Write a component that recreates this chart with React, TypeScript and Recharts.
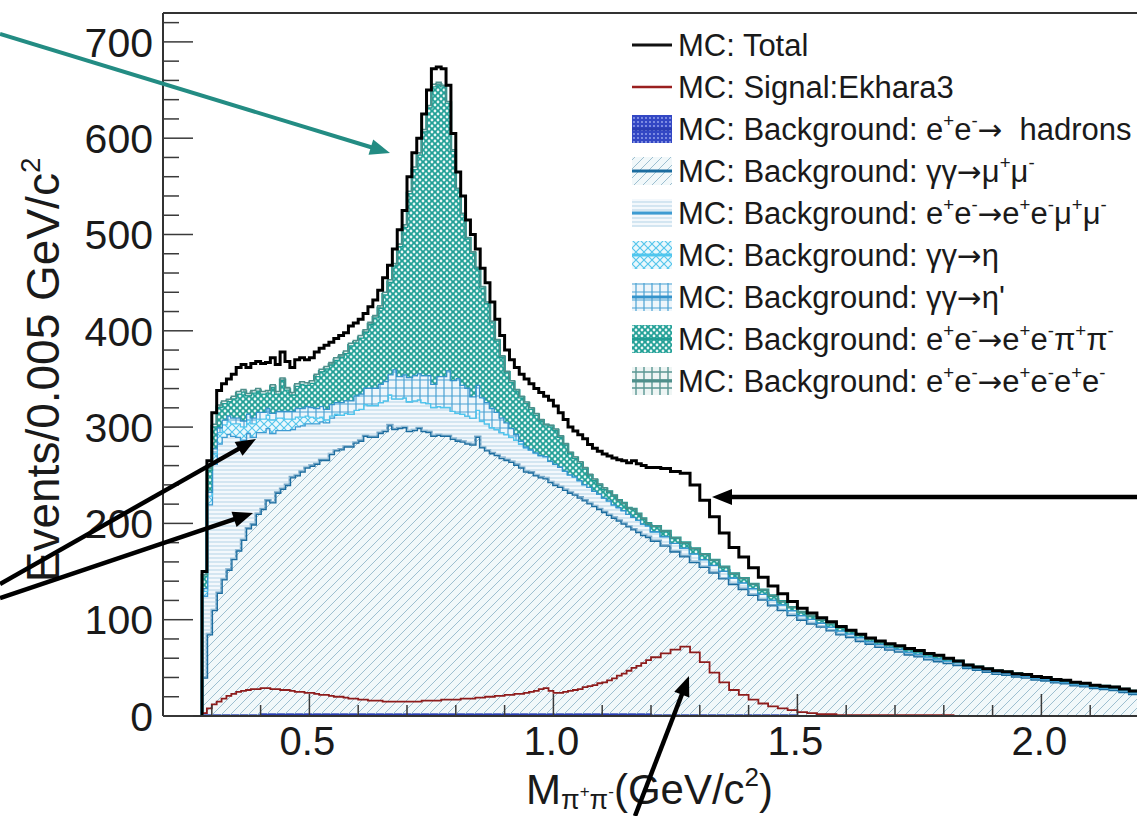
import React from 'react';
import { ComposedChart, Area, Line, XAxis, YAxis, ReferenceLine } from 'recharts';

// Bins: 0.01 GeV from 0.28 to 1.20, then 0.02 GeV up to 2.20
const FINE_BINS = 92;
const binLow = (i: number) =>
  Math.round((i < FINE_BINS ? 0.28 + i * 0.01 : 1.2 + (i - FINE_BINS) * 0.02) * 1000) / 1000;

const hadrons = [
  1, 1, 1, 1, 1, 1, 1, 1, 1, 1,
  1, 1, 2, 2, 2, 2, 2, 2, 2, 2,
  2, 2, 2, 2, 2, 2, 2, 2, 2, 2,
  2, 2, 2, 2, 2, 2, 2, 2, 2, 2,
  2, 2, 2, 2, 2, 2, 2, 2, 2, 2,
  2, 2, 2, 2, 2, 2, 2, 2, 2, 2,
  2, 2, 2, 2, 2, 2, 2, 2, 2, 2,
  2, 2, 2, 2, 2, 2, 2, 2, 2, 2,
  2, 2, 2, 2, 2, 2, 2, 2, 2, 2,
  2, 2,
  // coarse bins from 1.20
  1, 1, 1, 1, 1, 1, 1, 1, 1, 1, 1, 1, 1, 1, 1,
  0, 0, 0, 0, 0, 0, 0, 0, 0, 0, 0, 0, 0, 0, 0, 0, 0, 0,
  0, 0, 0, 0, 0, 0, 0, 0, 0, 0, 0, 0, 0, 0, 0, 0, 0,
];

const gammaMuMu = [
  39, 84, 109, 127, 141, 151, 162, 171, 182, 194,
  198, 209, 213, 222, 220, 230, 234, 238, 246, 248,
  252, 256, 258, 260, 264, 264, 270, 274, 275, 278,
  278, 282, 284, 289, 288, 288, 292, 294, 300, 296,
  297, 298, 294, 295, 297, 294, 293, 289, 290, 289,
  289, 286, 284, 283, 281, 280, 288, 277, 274, 271,
  269, 266, 264, 262, 259, 256, 252, 251, 248, 246,
  245, 241, 238, 236, 233, 230, 228, 225, 222, 219,
  216, 213, 210, 207, 204, 201, 198, 195, 192, 189,
  186, 184,
  181, 176, 170, 165, 159, 154, 148, 142, 136, 131, 125, 120, 114, 109, 104,
  100, 96, 93, 89, 85, 82, 78, 75, 72, 69, 67, 64, 62, 59, 57, 55, 53, 50,
  48, 46, 44, 43, 41, 40, 38, 37, 35, 34, 32, 31, 29, 28, 27, 25, 23,
];

const eeMuMu = [
  85, 135, 152, 155, 148, 141, 128, 118, 104, 99,
  91, 85, 80, 75, 72, 65, 61, 57, 50, 51,
  48, 46, 44, 42, 40, 39, 38, 37, 36, 35,
  34, 34, 33, 33, 33, 33, 32, 32, 32, 32,
  31, 31, 31, 31, 30, 30, 30, 30, 30, 30,
  30, 29, 29, 29, 29, 28, 28, 28, 28, 27,
  27, 27, 27, 26, 26, 25, 25, 24, 24, 23,
  23, 22, 22, 21, 20, 19, 19, 18, 17, 17,
  16, 16, 15, 15, 14, 14, 14, 13, 13, 13,
  12, 12,
  10, 10, 9, 9, 9, 8, 8, 8, 7, 7, 7, 6, 6, 6, 5,
  5, 5, 4, 4, 4, 4, 4, 3, 3, 3, 3, 3, 3, 3, 3, 3, 3, 2,
  2, 2, 2, 2, 2, 2, 2, 2, 2, 2, 2, 2, 2, 2, 2, 2, 2,
];

const gammaEta = [
  5, 9, 11, 12, 13, 13, 13, 14, 14, 14,
  14, 14, 14, 14, 14, 13, 13, 12, 11, 10,
  9, 8, 7, 6, 5, 3, 2, 1, 0, 0,
  0, 0, 0, 0, 0, 0, 0, 0, 0, 0,
  0, 0, 0, 0, 0, 0, 0, 0, 0, 0,
  0, 0, 0, 0, 0, 0, 0, 0, 0, 0,
  0, 0, 0, 0, 0, 0, 0, 0, 0, 0,
  0, 0, 0, 0, 0, 0, 0, 0, 0, 0,
  0, 0, 0, 0, 0, 0, 0, 0, 0, 0,
  0, 0,
  0, 0, 0, 0, 0, 0, 0, 0, 0, 0, 0, 0, 0, 0, 0,
  0, 0, 0, 0, 0, 0, 0, 0, 0, 0, 0, 0, 0, 0, 0, 0, 0, 0,
  0, 0, 0, 0, 0, 0, 0, 0, 0, 0, 0, 0, 0, 0, 0, 0, 0,
];

const gammaEtaPrime = [
  3, 4, 5, 5, 5, 6, 6, 6, 6, 6,
  6, 7, 7, 7, 7, 7, 7, 8, 8, 9,
  9, 10, 10, 10, 11, 11, 12, 12, 13, 13,
  14, 15, 16, 17, 18, 18, 19, 20, 21, 30,
  23, 24, 25, 26, 27, 28, 29, 24, 31, 32,
  38, 32, 36, 30, 29, 22, 26, 24, 22, 20,
  18, 15, 12, 9, 6, 3, 1, 0, 0, 0,
  0, 0, 0, 0, 0, 0, 0, 0, 0, 0,
  0, 0, 0, 0, 0, 0, 0, 0, 0, 0,
  0, 0,
  0, 0, 0, 0, 0, 0, 0, 0, 0, 0, 0, 0, 0, 0, 0,
  0, 0, 0, 0, 0, 0, 0, 0, 0, 0, 0, 0, 0, 0, 0, 0, 0, 0,
  0, 0, 0, 0, 0, 0, 0, 0, 0, 0, 0, 0, 0, 0, 0, 0, 0,
];

const eePiPi = [
  13, 23, 23, 21, 17, 15, 20, 25, 30, 19,
  26, 22, 19, 16, 27, 18, 32, 22, 17, 23,
  25, 22, 25, 33, 36, 42, 41, 44, 47, 49,
  57, 55, 58, 58, 66, 73, 79, 90, 96, 108,
  135, 153, 191, 214, 227, 253, 278, 309, 303, 301,
  278, 238, 196, 177, 155, 149, 121, 114, 103, 89,
  74, 63, 52, 48, 45, 45, 45, 42, 39, 36,
  32, 36, 35, 31, 27, 22, 19, 18, 16, 12,
  11, 9, 9, 9, 9, 7, 7, 6, 8, 6,
  5, 2,
  5, 5, 5, 5, 5, 5, 5, 4, 4, 4, 4, 4, 4, 3, 3,
  3, 3, 3, 3, 3, 2, 2, 2, 2, 2, 2, 2, 2, 2, 2, 1, 1, 1,
  1, 1, 1, 1, 1, 1, 1, 1, 1, 1, 1, 1, 1, 1, 1, 1, 1,
];

const eeEE = [
  1, 1, 2, 2, 2, 2, 2, 2, 2, 2,
  2, 2, 2, 2, 2, 2, 2, 2, 2, 2,
  2, 2, 2, 2, 2, 2, 2, 2, 2, 2,
  2, 2, 2, 2, 2, 2, 2, 2, 2, 2,
  2, 2, 2, 2, 2, 2, 2, 2, 2, 1,
  1, 1, 1, 1, 1, 1, 1, 1, 1, 1,
  1, 1, 1, 1, 1, 1, 1, 1, 1, 1,
  1, 1, 1, 1, 1, 1, 1, 1, 1, 1,
  1, 1, 1, 0, 0, 0, 0, 0, 0, 0,
  0, 0,
  0, 0, 0, 0, 0, 0, 0, 0, 0, 0, 0, 0, 0, 0, 0,
  0, 0, 0, 0, 0, 0, 0, 0, 0, 0, 0, 0, 0, 0, 0, 0, 0, 0,
  0, 0, 0, 0, 0, 0, 0, 0, 0, 0, 0, 0, 0, 0, 0, 0, 0,
];

const signalEkhara = [
  3, 8, 12, 15, 18, 21, 23, 25, 26, 27,
  28, 28, 29, 29, 28, 28, 27, 27, 26, 25,
  25, 24, 24, 23, 22, 22, 21, 20, 20, 19,
  18, 18, 17, 17, 16, 16, 16, 15, 15, 15,
  15, 15, 15, 15, 15, 16, 16, 16, 16, 17,
  17, 17, 17, 18, 18, 18, 19, 19, 20, 20,
  21, 21, 22, 22, 23, 23, 24, 25, 26, 28,
  29, 26, 24, 24, 25, 26, 27, 28, 30, 31,
  32, 34, 35, 37, 39, 42, 44, 47, 50, 52,
  55, 58,
  61, 65, 69, 72, 66, 56, 45, 35, 27, 22, 17, 13, 10, 8, 6,
  4, 3, 2, 2, 1, 1, 1, 1, 1, 1, 1, 1, 1, 1, 1, 1, 0, 0,
  0, 0, 0, 0, 0, 0, 0, 0, 0, 0, 0, 0, 0, 0, 0, 0, 0,
];

const X_TICKS = [0.3, 0.4, 0.5, 0.6, 0.7, 0.8, 0.9, 1.0, 1.1, 1.2, 1.3, 1.4, 1.5, 1.6, 1.7, 1.8, 1.9, 2.0, 2.1];
const Y_TICKS = [
  0, 20, 40, 60, 80, 100, 120, 140, 160, 180, 200, 220, 240, 260, 280, 300, 320, 340, 360, 380,
  400, 420, 440, 460, 480, 500, 520, 540, 560, 580, 600, 620, 640, 660, 680, 700, 720,
];

// stacking order, bottom to top
const STACK = [
  { key: 'hadrons', values: hadrons, fill: 'url(#pat-had)', stroke: '#2a3db3', width: 2 },
  { key: 'gammaMuMu', values: gammaMuMu, fill: 'url(#pat-mumu)', stroke: '#1b6c9f', width: 2.6 },
  { key: 'eeMuMu', values: eeMuMu, fill: 'url(#pat-eemumu)', stroke: '#3d9bd2', width: 2.6 },
  { key: 'gammaEta', values: gammaEta, fill: 'url(#pat-eta)', stroke: '#4fc6ee', width: 2.6 },
  { key: 'gammaEtaPrime', values: gammaEtaPrime, fill: 'url(#pat-etap)', stroke: '#3493cb', width: 2.6 },
  { key: 'eePiPi', values: eePiPi, fill: 'url(#pat-pipi)', stroke: '#1f9d93', width: 2.6 },
  { key: 'eeEE', values: eeEE, fill: 'url(#pat-eeee)', stroke: '#4f8f8b', width: 1.5 },
];

const rows: any[] = [];
const zeroRow: any = { x: 0.28, signal: 0, total: 0 };
STACK.forEach((s) => (zeroRow[s.key] = 0));
rows.push(zeroRow);
signalEkhara.forEach((sig, i) => {
  const row: any = { x: binLow(i), signal: sig };
  let sum = sig;
  STACK.forEach((s) => {
    row[s.key] = s.values[i];
    sum += s.values[i];
  });
  row.total = sum;
  rows.push(row);
});
rows.push({ ...rows[rows.length - 1], x: 2.2 });

const FONT = '"Liberation Sans", Arial, Helvetica, sans-serif';
const INK = '#1a1a1a';

// splits "e^{+}e^{-}" style strings into raised tspans; arrows get a wider glyph
function rich(s: string, size: number) {
  const parts = s.split(/(\^\{[^}]*\}|→)/).filter(Boolean);
  let shift = 0;
  return parts.map((p, i) => {
    if (p.startsWith('^{')) {
      const up = -0.42 * size;
      const dy = up - shift;
      shift = up;
      return (
        <tspan key={i} fontSize={size * 0.6} dy={dy}>
          {p.slice(2, -1)}
        </tspan>
      );
    }
    const dy = -shift;
    shift = 0;
    if (p === '→') {
      return (
        <tspan key={i} dy={dy} fontFamily="DejaVu Sans" fontSize={size * 0.95}>
          {p}
        </tspan>
      );
    }
    return (
      <tspan key={i} dy={dy}>
        {p}
      </tspan>
    );
  });
}

const XTick = (props: any) => {
  const { x, y, payload } = props;
  const v = payload.value;
  const major = Math.abs(v * 2 - Math.round(v * 2)) < 1e-6;
  return (
    <g>
      <line x1={x} x2={x} y1={y} y2={y - (major ? 22 : 11)} stroke="#3a3a3a" strokeWidth={1.5} />
      {major && (
        <text x={x - 2} y={y + 39} textAnchor="middle" fontSize={40} fontFamily={FONT} fill={INK}>
          {v.toFixed(1)}
        </text>
      )}
    </g>
  );
};

const YTick = (props: any) => {
  const { x, y, payload } = props;
  const major = payload.value % 100 === 0;
  return (
    <g>
      <line x1={x} x2={x + (major ? 30 : 16)} y1={y} y2={y} stroke="#3a3a3a" strokeWidth={1.5} />
      {major && (
        <text x={x - 10} y={y} dy="0.36em" textAnchor="end" fontSize={41} fontFamily={FONT} fill={INK}>
          {payload.value}
        </text>
      )}
    </g>
  );
};

const Arrow = ({ x1, y1, x2, y2, color, w }: any) => {
  const len = Math.hypot(x2 - x1, y2 - y1);
  const ux = (x2 - x1) / len;
  const uy = (y2 - y1) / len;
  const head = 20;
  const half = 8;
  const bx = x2 - ux * head;
  const by = y2 - uy * head;
  const pts = `${x2},${y2} ${bx - uy * half},${by + ux * half} ${bx + uy * half},${by - ux * half}`;
  return (
    <g>
      <line x1={x1} y1={y1} x2={bx + ux * 2} y2={by + uy * 2} stroke={color} strokeWidth={w} />
      <polygon points={pts} fill={color} />
    </g>
  );
};

const LEGEND = [
  { label: 'MC: Total', stroke: '#111', lw: 3 },
  { label: 'MC: Signal:Ekhara3', stroke: '#9a1f1f', lw: 2.5 },
  { label: 'MC: Background: e^{+}e^{-}→\u00a0 hadrons', fill: 'url(#pat-had)', stroke: '#2a3db3', lw: 3 },
  { label: 'MC: Background: γγ→μ^{+}μ^{-}', fill: 'url(#pat-mumu)', stroke: '#1b6c9f', lw: 3 },
  { label: 'MC: Background: e^{+}e^{-}→e^{+}e^{-}μ^{+}μ^{-}', fill: 'url(#pat-eemumu)', stroke: '#3d9bd2', lw: 3 },
  { label: 'MC: Background: γγ→η', fill: 'url(#pat-eta)', stroke: '#4fc6ee', lw: 3 },
  { label: "MC: Background: γγ→η'", fill: 'url(#pat-etap)', stroke: '#3493cb', lw: 3 },
  { label: 'MC: Background: e^{+}e^{-}→e^{+}e^{-}π^{+}π^{-}', fill: 'url(#pat-pipi)', stroke: '#1f9d93', lw: 3 },
  { label: 'MC: Background: e^{+}e^{-}→e^{+}e^{-}e^{+}e^{-}', fill: 'url(#pat-eeee)', stroke: '#4f8f8b', lw: 3 },
];

const Patterns = () => (
  <svg width={0} height={0} style={{ position: 'absolute' }}>
    <defs>
      <pattern id="pat-had" width="4" height="4" patternUnits="userSpaceOnUse">
        <rect width="4" height="4" fill="#3347c4" />
        <circle cx="2" cy="2" r="0.9" fill="#9eabf0" />
      </pattern>
      <pattern id="pat-mumu" width="9" height="9" patternUnits="userSpaceOnUse">
        <rect width="9" height="9" fill="#d6e9f1" fillOpacity="0.35" />
        <path d="M0,9 L9,0 M-1,1 L1,-1 M8,10 L10,8" stroke="#9dbfd0" strokeWidth="1" />
      </pattern>
      <pattern id="pat-eemumu" width="8" height="4" patternUnits="userSpaceOnUse">
        <rect width="8" height="4" fill="#e4f1f9" fillOpacity="0.45" />
        <line x1="0" x2="8" y1="2" y2="2" stroke="#b3d3e6" strokeWidth="1" />
      </pattern>
      <pattern id="pat-eta" width="8" height="8" patternUnits="userSpaceOnUse">
        <rect width="8" height="8" fill="#eaf8fd" />
        <path d="M0,0 L8,8 M8,0 L0,8" stroke="#55c6ec" strokeWidth="1.2" />
      </pattern>
      <pattern id="pat-etap" width="8" height="8" patternUnits="userSpaceOnUse">
        <rect width="8" height="8" fill="#eef6fb" />
        <path d="M0,4 H8 M4,0 V8" stroke="#4aa2d4" strokeWidth="1.2" />
      </pattern>
      <pattern id="pat-pipi" width="6" height="6" patternUnits="userSpaceOnUse">
        <rect width="6" height="6" fill="#22a097" />
        <circle cx="0" cy="0" r="1.4" fill="#e9f7f5" />
        <circle cx="6" cy="0" r="1.4" fill="#e9f7f5" />
        <circle cx="0" cy="6" r="1.4" fill="#e9f7f5" />
        <circle cx="6" cy="6" r="1.4" fill="#e9f7f5" />
        <circle cx="3" cy="3" r="1.4" fill="#e9f7f5" />
      </pattern>
      <pattern id="pat-eeee" width="8" height="8" patternUnits="userSpaceOnUse">
        <rect width="8" height="8" fill="#eef5f4" />
        <path d="M0,4 H8 M4,0 V8" stroke="#5b9793" strokeWidth="1.4" />
      </pattern>
    </defs>
  </svg>
);

export default function App() {
  return (
    <div
      style={{
        position: 'absolute',
        left: 0,
        top: 0,
        width: 1137,
        height: 816,
        overflow: 'hidden',
        background: '#fff',
        fontFamily: FONT,
      }}
    >
      <Patterns />
      <ComposedChart width={1160} height={816} data={rows} margin={{ top: 13, right: 21, bottom: 0, left: 0 }}>
        <XAxis
          type="number"
          dataKey="x"
          domain={[0.2, 2.2]}
          ticks={X_TICKS}
          interval={0}
          allowDataOverflow
          height={100}
          tickSize={0}
          tickMargin={0}
          tickLine={false}
          tick={(p: any) => <XTick {...p} />}
          axisLine={{ stroke: '#333', strokeWidth: 2 }}
        />
        <YAxis
          type="number"
          domain={[0, 730]}
          ticks={Y_TICKS}
          interval={0}
          allowDataOverflow
          width={163}
          tickSize={0}
          tickMargin={0}
          tickLine={false}
          tick={(p: any) => <YTick {...p} />}
          axisLine={{ stroke: '#333', strokeWidth: 2 }}
        />
        {STACK.map((s) => (
          <Area
            key={s.key}
            type="stepAfter"
            dataKey={s.key}
            stackId="mc"
            fill={s.fill}
            fillOpacity={1}
            stroke={s.stroke}
            strokeWidth={s.width}
            isAnimationActive={false}
          />
        ))}
        <Line type="stepAfter" dataKey="signal" stroke="#8e1c1c" strokeWidth={1.8} dot={false} isAnimationActive={false} />
        <Line type="stepAfter" dataKey="total" stroke="#000" strokeWidth={3} dot={false} isAnimationActive={false} />
        <ReferenceLine y={730} stroke="#333" strokeWidth={2} />
      </ComposedChart>

      <svg width={1137} height={816} style={{ position: 'absolute', left: 0, top: 0, pointerEvents: 'none' }}>
        {/* axis titles */}
        <text
          transform="translate(59, 370) rotate(-90)"
          textAnchor="middle"
          fontSize={46}
          fontFamily={FONT}
          fill={INK}
        >
          {rich('Events/0.005 GeV/c^{2}', 46)}
        </text>
        <text x={526} y={804} fontSize={42} fontFamily={FONT} fill={INK}>
          M
          <tspan fontSize={27} dy={5}>π</tspan>
          <tspan fontSize={17} dy={-12}>+</tspan>
          <tspan fontSize={27} dy={12}>π</tspan>
          <tspan fontSize={17} dy={-12}>-</tspan>
          <tspan fontSize={42} dy={7}>(GeV/c</tspan>
          <tspan fontSize={26} dy={-18}>2</tspan>
          <tspan fontSize={42} dy={18}>)</tspan>
        </text>

        {/* legend */}
        {LEGEND.map((e, i) => {
          const cy = 45 + i * 42;
          return (
            <g key={e.label}>
              {e.fill && <rect x={632} y={cy - 14} width={40} height={28} fill={e.fill} />}
              <line x1={632} x2={672} y1={cy} y2={cy} stroke={e.stroke} strokeWidth={e.lw} />
              <text x={678} y={cy + 11} fontSize={31} fontFamily={FONT} fill={INK}>
                {rich(e.label, 31)}
              </text>
            </g>
          );
        })}

        {/* annotation arrows */}
        <Arrow x1={0} y1={34} x2={390} y2={153} color="#238c83" w={4} />
        <Arrow x1={0} y1={584} x2={256} y2={439} color="#000" w={4.5} />
        <Arrow x1={0} y1={598} x2={253} y2={513} color="#000" w={4.5} />
        <Arrow x1={1137} y1={497} x2={712} y2={497} color="#000" w={4.5} />
        <Arrow x1={635} y1={816} x2={689} y2={676} color="#000" w={4.5} />
      </svg>
    </div>
  );
}
